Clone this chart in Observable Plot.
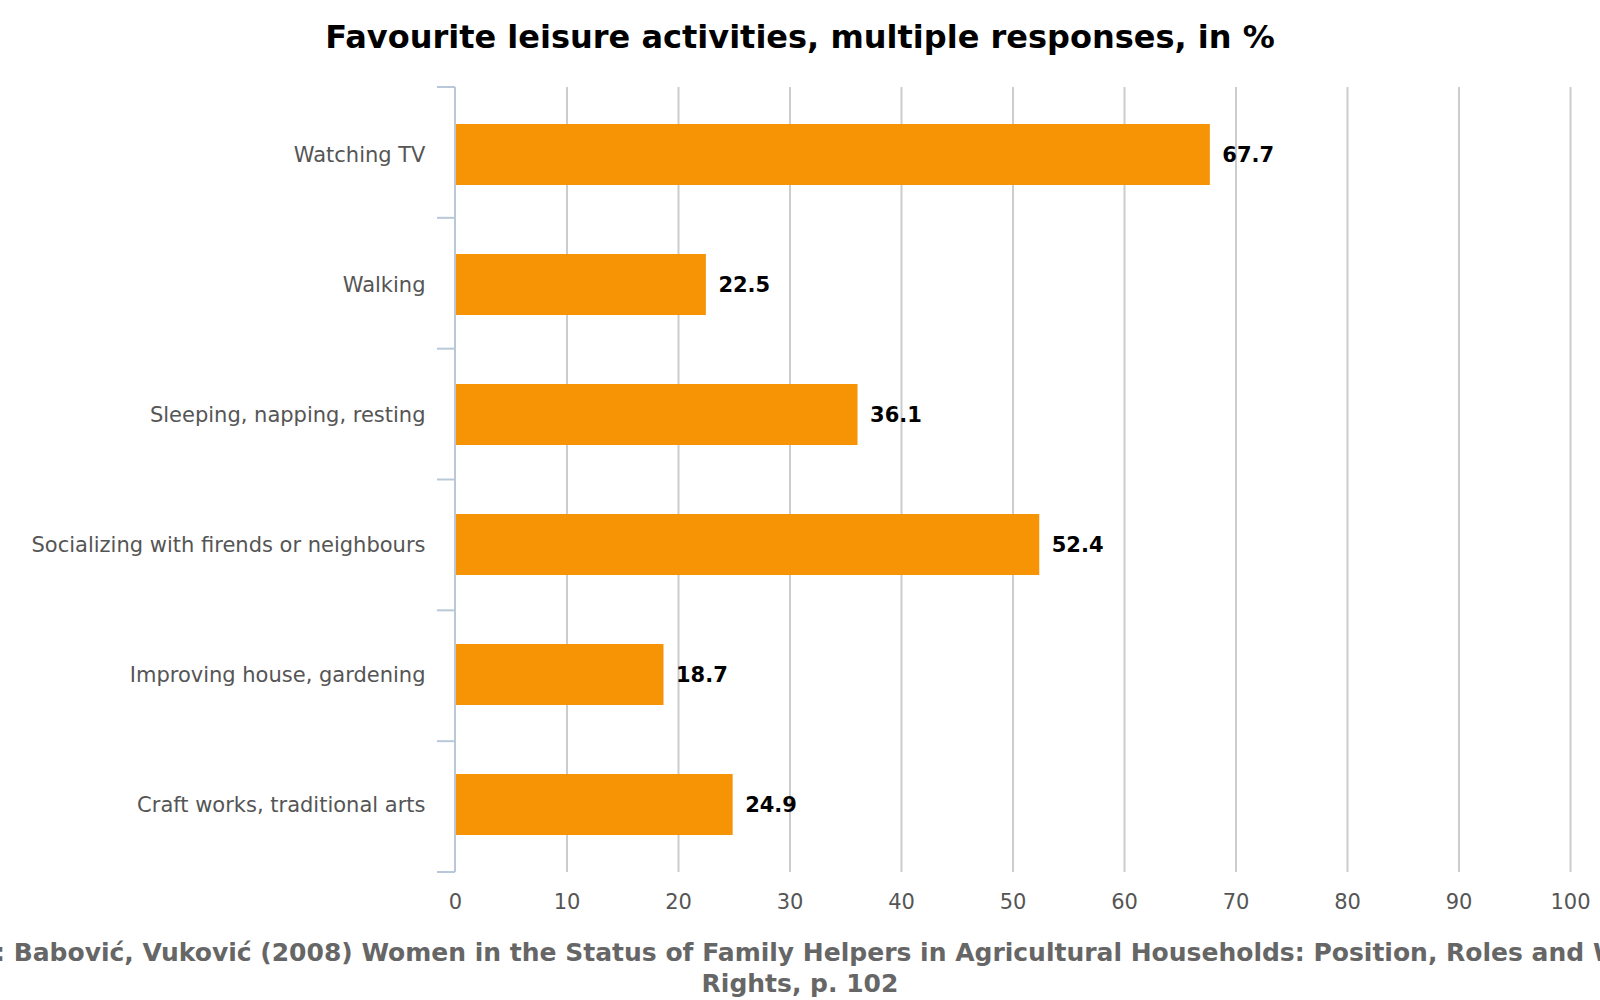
<!DOCTYPE html>
<html><head><meta charset="utf-8">
<script src="https://cdn.jsdelivr.net/npm/d3@7"></script>
<script src="https://cdn.jsdelivr.net/npm/@observablehq/plot@0.6"></script>
<style>
body{margin:0;width:1600px;height:1000px;overflow:hidden;background:#fff;font-family:"DejaVu Sans",sans-serif}
#title{position:absolute;top:18px;left:0;width:1600px;text-align:center;font-weight:bold;font-size:32px;color:#000}
#chart{position:absolute;top:70px;left:0}
#cap{position:absolute;top:937px;left:-200px;width:2000px;text-align:center;font-weight:bold;font-size:25px;color:#666;line-height:31px;white-space:nowrap}
</style></head><body>
<div id="title">Favourite leisure activities, multiple responses, in %</div>
<div id="chart"></div>
<div id="cap">Source: Babović, Vuković (2008) Women in the Status of Family Helpers in Agricultural Households: Position, Roles and Welfare<br>Rights, p. 102</div>
<script>
const categories=["Watching TV","Walking","Sleeping, napping, resting","Socializing with firends or neighbours","Improving house, gardening","Craft works, traditional arts"];
const values=[67.7,22.5,36.1,52.4,18.7,24.9];
const xTicks=[0,10,20,30,40,50,60,70,80,90,100];
const data=categories.map((c,i)=>({c,v:values[i]}));
const chart=Plot.plot({
  width:1600,height:852,
  marginLeft:455,marginRight:30,marginTop:17,marginBottom:50,
  style:{fontFamily:'"DejaVu Sans",sans-serif',fontSize:"20px",color:"#555",overflow:"visible"},
  x:{domain:[0,100],ticks:xTicks,label:null},
  y:{domain:categories,padding:0,label:null},
  marks:[
    Plot.gridX(xTicks.slice(1),{stroke:"#ccc",strokeOpacity:1,strokeWidth:2}),
    Plot.axisX({ticks:xTicks,tickSize:0,tickPadding:22,fill:"#555",fontSize:21}),
    Plot.axisY({tickSize:0,tickPadding:30,fill:"#555",fontSize:21}),
    Plot.barX(data,{y:"c",x:"v",fill:"#f79405",insetTop:34,insetBottom:35}),
    Plot.text(data,{y:"c",x:"v",text:d=>d.v.toFixed(1),textAnchor:"start",dx:12,fill:"#000",fontWeight:"bold",fontSize:21})
  ]
});
document.getElementById("chart").append(chart);
const y=chart.scale("y"), x=chart.scale("x");
const svg=d3.select(chart);
const r=y.range, step=(r[1]-r[0])/categories.length;
const x0=x.apply(0);
const g=svg.append("g").attr("stroke","#b8c8d8").attr("stroke-width",2);
g.append("line").attr("x1",x0).attr("x2",x0).attr("y1",r[0]).attr("y2",r[1]);
for(let i=0;i<=categories.length;i++){const yy=r[0]+i*step;g.append("line").attr("x1",x0-18).attr("x2",x0).attr("y1",yy).attr("y2",yy);}
</script></body></html>
